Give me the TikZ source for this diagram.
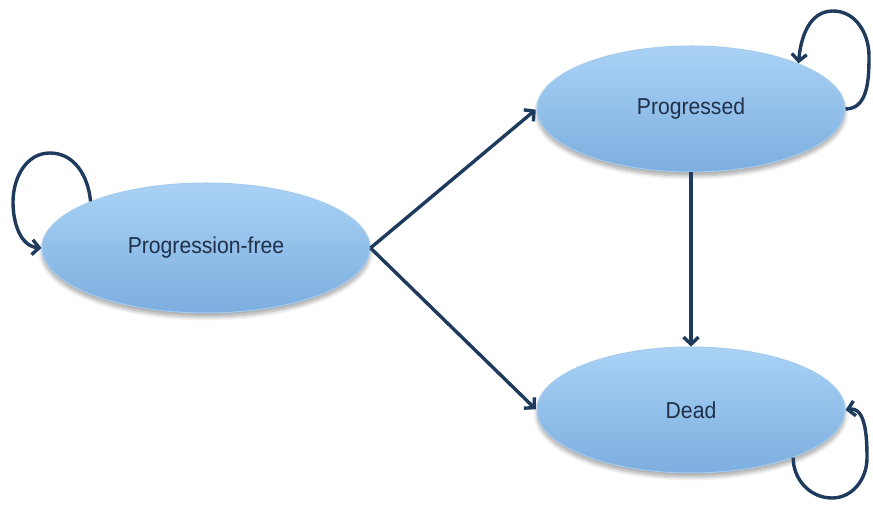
\documentclass[tikz,border=0pt]{standalone}
\usepackage{fontspec}
\setmainfont{Liberation Sans}
\newfontfamily\lblfont[FakeStretch=0.92]{Liberation Sans}
\usetikzlibrary{shapes.geometric,arrows.meta,shadows.blur}

\definecolor{stateTop}{HTML}{A9D2F5}
\definecolor{stateMid}{HTML}{90C1EC}
\definecolor{stateBot}{HTML}{7DAEDF}
\definecolor{stateRim}{HTML}{A4CCEE}
\definecolor{linkCol}{HTML}{1E3A5C}
\definecolor{textCol}{HTML}{1F3049}

\tikzset{
  state/.style={ellipse, inner sep=0pt, draw=stateRim, line width=1pt,
    top color=stateTop, middle color=stateMid, bottom color=stateBot,
    blur shadow={shadow xshift=0pt, shadow yshift=-4pt, shadow blur steps=8,
      shadow blur radius=4pt, shadow opacity=35},
    text=textCol, font=\lblfont\fontsize{23}{27}\selectfont},
  link/.style={draw=linkCol, line width=3.4pt,
    -{Straight Barb[length=7pt,width=15pt]}},
}

\begin{document}
\begin{tikzpicture}[x=1pt,y=1pt]
  \useasboundingbox (0,0) rectangle (873,508);

  % states
  \node[state, minimum width=328pt, minimum height=130pt] (pf)   at (206,260) {Progression-free};
  \node[state, minimum width=308pt, minimum height=126pt] (pg)   at (691,399) {Progressed};
  \node[state, minimum width=308pt, minimum height=126pt] (dead) at (691,98)  {Dead};

  % transitions
  \draw[link, shorten >=1pt] (pf.east) -- (pg.west);
  \draw[link, shorten >=1pt] (pf.east) -- (dead.west);
  \draw[link] (pg.south) -- (dead.north);

  % staying in the same state
  \coordinate (pfTop)   at (50,355);
  \coordinate (pfLeft)  at (13,306);
  \draw[link] (pf.158) to[out=95,in=0] (pfTop) to[out=180,in=90] (pfLeft)
              to[out=-90,in=175] (pf.west);

  \coordinate (pgRight) at (869,452);
  \coordinate (pgTop)   at (833,497);
  \draw[link] (pg.east) to[out=0,in=-90] (pgRight) to[out=90,in=0] (pgTop)
              to[out=180,in=85] (pg.23);

  \coordinate (deadBot)   at (832,10);
  \coordinate (deadRight) at (867,50);
  \draw[link] (dead.-25) to[out=-90,in=180] (deadBot) to[out=0,in=-90] (deadRight)
              to[out=90,in=10] (dead.east);
\end{tikzpicture}
\end{document}
